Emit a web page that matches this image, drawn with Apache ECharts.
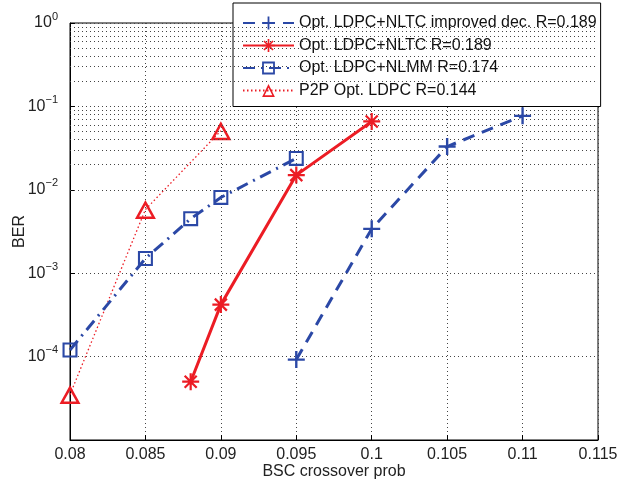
<!DOCTYPE html>
<html><head><meta charset="utf-8">
<script src="https://cdn.jsdelivr.net/npm/echarts@6/dist/echarts.min.js"></script>
<style>html,body{margin:0;padding:0;background:#fff}#c{width:628px;height:481px}</style>
</head><body><div id="c"></div>
<script>
// ---- data ----
const xTicks = [0.08, 0.085, 0.09, 0.095, 0.1, 0.105, 0.11, 0.115];
const seriesNames = [
  'Opt. LDPC+NLTC improved dec. R=0.189',
  'Opt. LDPC+NLTC R=0.189',
  'Opt. LDPC+NLMM R=0.174',
  'P2P Opt. LDPC R=0.144'
];
const xImproved = [0.095, 0.1, 0.105, 0.11];
const berImproved = [9.2e-5, 3.4e-3, 0.033, 0.077];
const xNLTC = [0.088, 0.09, 0.095, 0.1];
const berNLTC = [5.0e-5, 4.2e-4, 0.0150, 0.066];
const xNLMM = [0.08, 0.085, 0.088, 0.09, 0.095];
const berNLMM = [1.2e-4, 1.5e-3, 4.5e-3, 8.1e-3, 0.0238];
const xP2P = [0.08, 0.085, 0.09];
const berP2P = [3.5e-5, 5.8e-3, 0.051];
const decades = [-5, -4, -3, -2, -1];
const minorMultipliers = [2, 3, 4, 5, 6, 7, 8, 9];
const hiddenExponents = [-5];

const BLUE = '#2b48a6', RED = '#ec1c24';
const FONT = 'Liberation Sans';

const plusPath = 'path://M-0.14,-1L0.14,-1L0.14,-0.14L1,-0.14L1,0.14L0.14,0.14L0.14,1L-0.14,1L-0.14,0.14L-1,0.14L-1,-0.14L-0.14,-0.14Z';
function arm(angleDeg) {
  const a = angleDeg * Math.PI / 180, w = 0.13;
  const c = Math.cos(a), s = Math.sin(a);
  const px = -s * w, py = c * w;
  const pts = [[-c + px, -s + py], [c + px, s + py], [c - px, s - py], [-c - px, -s - py]];
  return 'M' + pts.map(p => p[0].toFixed(3) + ',' + p[1].toFixed(3)).join('L') + 'Z';
}
const starPath = 'path://' + arm(0) + arm(45) + arm(90) + arm(135);
const squarePath = 'path://M-1,-1L1,-1L1,1L-1,1ZM-0.72,-0.72L-0.72,0.72L0.72,0.72L0.72,-0.72Z';
const triPath = 'path://M0,-1L1,0.8L-1,0.8ZM0,-0.5L-0.6,0.56L0.6,0.56Z';

function zip(xs, ys) { return xs.map((x, i) => [x, ys[i]]); }

const minorLines = [];
decades.forEach(d => minorMultipliers.forEach(m => minorLines.push({ yAxis: m * Math.pow(10, d) })));

const sup = {
  b: { fontSize: 16, fontFamily: FONT, color: '#222' },
  s: { fontSize: 11, fontFamily: FONT, color: '#222', padding: [0, 0, 13, 0] }
};

const chart = echarts.init(document.getElementById('c'));
chart.setOption({
  animation: false,
  backgroundColor: '#fff',
  textStyle: { fontFamily: FONT },
  grid: { left: 70, right: 30, top: 23, bottom: 41, show: true, borderColor: '#000', borderWidth: 1,
    containLabel: false, outerBoundsMode: 'none' },
  xAxis: {
    type: 'value', min: xTicks[0], max: xTicks[xTicks.length - 1], interval: 0.005,
    name: 'BSC crossover prob', nameLocation: 'middle', nameGap: 24, nameMoveOverlap: false,
    nameTextStyle: { fontSize: 16, fontFamily: FONT, color: '#222' },
    axisLine: { show: true, lineStyle: { color: '#000' } },
    axisTick: { inside: true, length: 5, lineStyle: { color: '#000' } },
    axisLabel: { fontSize: 16, fontFamily: FONT, color: '#222', margin: 7,
      formatter: v => String(+v.toFixed(3)) },
    splitLine: { show: true, lineStyle: { color: '#444', type: [1, 3], width: 1 } }
  },
  yAxis: {
    type: 'log', logBase: 10, min: 1e-5, max: 1,
    name: 'BER', nameLocation: 'middle', nameGap: 42, nameRotate: 90, nameMoveOverlap: false,
    nameTextStyle: { fontSize: 16, fontFamily: FONT, color: '#222' },
    axisLine: { show: true, lineStyle: { color: '#000' } },
    axisTick: { inside: true, length: 5, lineStyle: { color: '#000' } },
    axisLabel: { margin: 12, rich: sup,
      formatter: v => {
        const e = Math.round(Math.log10(v));
        if (hiddenExponents.includes(e)) return '';
        return '{b|10}{s|' + (e < 0 ? '\u2212' + (-e) : e) + '}';
      } },
    splitLine: { show: true, lineStyle: { color: '#444', type: [1, 3], width: 1 } }
  },
  legend: {
    show: true, orient: 'vertical', left: 233, top: 3,
    backgroundColor: '#fff', borderColor: '#000', borderWidth: 1,
    padding: [12, 4, 8, 9], itemGap: 6.5, itemWidth: 51, itemHeight: 16,
    textStyle: { fontSize: 16, fontFamily: FONT, color: '#111' },
    data: seriesNames
  },
  series: [
    { name: seriesNames[0], type: 'line', data: zip(xImproved, berImproved), clip: false,
      symbol: plusPath, symbolSize: 17, color: BLUE,
      itemStyle: { color: BLUE },
      lineStyle: { color: BLUE, width: 3, type: [12, 8] }, z: 5,
      markLine: { silent: true, symbol: 'none', label: { show: false },
        lineStyle: { color: '#444', type: [1, 3], width: 1 }, animation: false,
        emphasis: { disabled: true }, data: minorLines }
    },
    { name: seriesNames[1], type: 'line', data: zip(xNLTC, berNLTC), clip: false,
      symbol: starPath, symbolSize: 17, color: RED,
      itemStyle: { color: RED },
      lineStyle: { color: RED, width: 3, type: 'solid' }, z: 6 },
    { name: seriesNames[2], type: 'line', data: zip(xNLMM, berNLMM), clip: false,
      symbol: squarePath, symbolSize: 15, color: BLUE,
      itemStyle: { color: BLUE },
      lineStyle: { color: BLUE, width: 3, type: [12, 6, 2, 6] }, z: 5 },
    { name: seriesNames[3], type: 'line', data: zip(xP2P, berP2P), clip: false,
      symbol: triPath, symbolSize: [21, 19], color: RED,
      itemStyle: { color: RED },
      lineStyle: { color: RED, width: 1.3, type: [1.5, 2.5] }, z: 4 }
  ]
});
</script>
</body></html>
